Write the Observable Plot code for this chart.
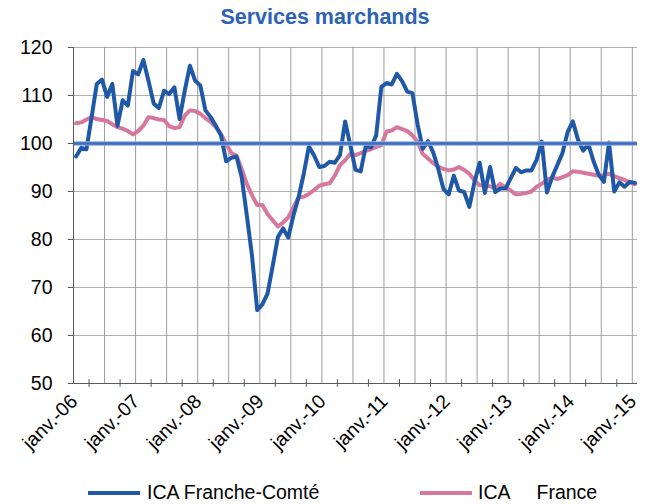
<!DOCTYPE html>
<html><head><meta charset="utf-8">
<script src="https://cdn.jsdelivr.net/npm/d3@7"></script>
<script src="https://cdn.jsdelivr.net/npm/@observablehq/plot@0.6"></script>
<style>
body{margin:0;background:#fff;font-family:"Liberation Sans",Arial,sans-serif;}
#wrap{position:relative;width:650px;height:504px;overflow:hidden;}
#chart{position:absolute;left:0;top:0;}
#title{position:absolute;left:0;width:650px;top:5px;text-align:center;font-weight:bold;font-size:21.5px;color:#2B62B6;}
.leg{position:absolute;top:480px;font-size:19.5px;white-space:pre;color:#000;line-height:24px;}
.sw{position:absolute;height:4px;top:491px;}
</style></head><body>
<div id="wrap">
  <div id="chart"></div>
  <div id="title"></div>
  <div class="sw" id="sw1" style="left:88px;width:52px;"></div>
  <div class="leg" id="lg1" style="left:147px;"></div>
  <div class="sw" id="sw2" style="left:420px;width:52px;"></div>
  <div class="leg" id="lg2" style="left:478px;"></div>
</div>
<script>
const titleText = "Services marchands";
const seriesNames = ["ICA Franche-Comté", "ICA     France"];
const seriesColors = ["#2058A8", "#D6789E"];
const yTicks = [50, 60, 70, 80, 90, 100, 110, 120];
const yearLabels = ["janv.-06","janv.-07","janv.-08","janv.-09","janv.-10","janv.-11","janv.-12","janv.-13","janv.-14","janv.-15"];
const refValue = 100;
// monthly values, janv. 2006 .. janv. 2015
const franceComte = [97.3, 99.1, 98.8, 105.5, 112.4, 113.3, 109.7, 112.4, 103.7, 109, 107.9, 115.1,
 114.4, 117.4, 113, 108.3, 107.4, 111, 110.3, 111.7, 105.1, 111, 116.2, 113.1,
 112.1, 106.9, 105.5, 103.7, 101.7, 96.3, 97, 97.3, 93, 85, 76.6, 65.3,
 66.5, 68.7, 74.5, 80.5, 82.3, 80.4, 85, 88.8, 93.7, 99.4, 97.5, 95.1,
 95.3, 96.2, 96, 97.6, 104.6, 99.6, 94.5, 94.2, 99.5, 99.2, 101.7, 111.8,
 112.6, 112.3, 114.5, 113, 110.8, 110.5, 104, 98.9, 100.5, 98.2, 94.7, 90.5,
 89.4, 93.3, 90.2, 89.9, 86.8, 92, 96, 89.7, 95.1, 89.9, 90.6, 90.6,
 92.8, 94.9, 94, 94.4, 94.4, 96.6, 100.4, 89.8, 93, 95.5, 98, 102.4,
 104.6, 100.8, 98.5, 99.9, 96.3, 93.5, 92, 100.2, 90, 91.9, 91, 92,
 91.8];
const france = [104.2, 104.4, 105, 105.5, 105.1, 104.9, 104.7, 104.0, 103.4, 103.1, 102.6, 101.9,
 102.6, 103.7, 105.5, 105.3, 105, 104.9, 103.6, 103.2, 103.4, 105.8, 106.9, 106.75,
 106.2, 105.3, 104.5, 103.4, 102, 99.9, 98, 97.5, 94.7, 91.6, 89.2, 87.2,
 87.2, 85.3, 84, 82.7, 83.5, 84.6, 86.7, 88.8, 88.9, 89.5, 90.3, 91.2,
 91.5, 91.7, 93.3, 95.5, 96.5, 97.8, 97.6, 98, 98.5, 98.8, 99.3, 99.6,
 102.5, 102.7, 103.4, 103, 102.6, 101.7, 100.3, 97.8, 96.9, 95.9, 95.2, 94.7,
 94.4, 94.6, 95.1, 94.5, 93.7, 92.3, 91.3, 91.2, 91.1, 90.6, 91.6, 90.8,
 90.2, 89.4, 89.5, 89.7, 90, 91, 91.6, 92.4, 92.9, 92.6, 93, 93.4,
 94.2, 94.1, 93.9, 93.7, 93.5, 93.3, 93.4, 93.7, 93.2, 92.8, 92.4, 91.9,
 91.5];

const n = franceComte.length;
const data = d3.range(n).map(i => ({i, fc: franceComte[i], fr: france[i]}));
const gridX = d3.range(1, 19).map(k => -0.5 + 6 * k);
const tickX = d3.range(0, 18).map(k => 2.5 + 6 * k);
const labelData = yearLabels.map((t, k) => ({i: 12 * k, t}));

document.getElementById("title").textContent = titleText;
document.getElementById("lg1").textContent = seriesNames[0];
document.getElementById("lg2").textContent = seriesNames[1];
document.getElementById("sw1").style.background = seriesColors[0];
document.getElementById("sw2").style.background = seriesColors[1];

const chart = Plot.plot({
  width: 650, height: 504,
  marginTop: 47, marginBottom: 121, marginLeft: 73, marginRight: 13,
  x: {type: "linear", domain: [-0.5, n - 0.5], axis: null},
  y: {type: "linear", domain: [50, 120], axis: null},
  style: {fontFamily: "'Liberation Sans', Arial, sans-serif", fontSize: "19.5px", background: "white", color: "#000"},
  marks: [
    Plot.ruleY(yTicks.filter(v => v > 50), {stroke: "#B0B0B0", strokeWidth: 1}),
    Plot.ruleX(gridX, {stroke: "#9C9C9C", strokeWidth: 1}),
    Plot.line(data, {x: "i", y: "fr", stroke: seriesColors[1], strokeWidth: 4, strokeLinejoin: "round"}),
    Plot.line(data, {x: "i", y: "fc", stroke: seriesColors[0], strokeWidth: 4, strokeLinejoin: "round"}),
    Plot.ruleY([refValue], {stroke: "#8FAADC", strokeWidth: 4.5}),
    Plot.ruleY([refValue], {stroke: "#3A6CC0", strokeWidth: 2.5}),
    Plot.ruleX([-0.5], {stroke: "#5A5A5A", strokeWidth: 1}),
    Plot.ruleY([50], {stroke: "#5A5A5A", strokeWidth: 1}),
    Plot.ruleX(tickX, {y1: 49.2, y2: 50.8, stroke: "#5A5A5A"}),
    Plot.ruleY(yTicks, {x1: -1.5, x2: -0.5, stroke: "#5A5A5A"}),
    Plot.text(yTicks, {x: -0.5, y: d => d, text: d => String(d), textAnchor: "end", dx: -21, fill: "#000"}),
    Plot.text(labelData, {x: "i", y: 50, text: "t", rotate: -45, textAnchor: "end", lineAnchor: "bottom", dx: 2.5, dy: 19, fill: "#000"})
  ]
});
document.getElementById("chart").appendChild(chart);
</script>
</body></html>
